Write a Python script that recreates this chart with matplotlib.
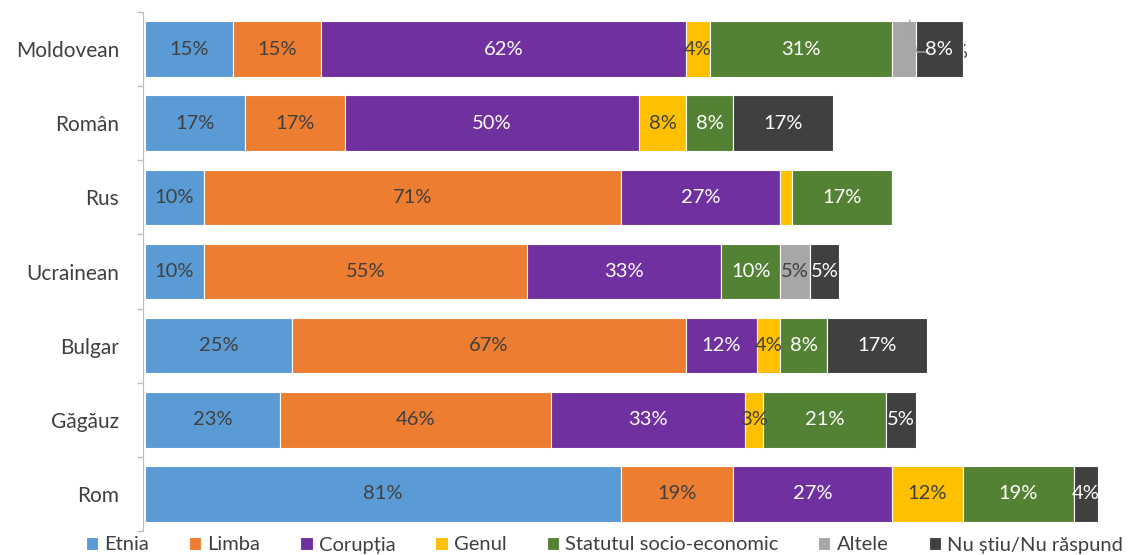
import numpy as np
import matplotlib
matplotlib.use("Agg")
import matplotlib.pyplot as plt

plt.rcParams['font.family'] = ['Lato', 'DejaVu Sans']

groups = ['Moldovean', 'Român', 'Rus', 'Ucrainean', 'Bulgar', 'Găgăuz', 'Rom']
series = ['Etnia', 'Limba', 'Corupția', 'Genul', 'Statutul socio-economic', 'Altele', 'Nu știu/Nu răspund']
etnia = [15, 17, 10, 10, 25, 23, 81]
limba = [15, 17, 71, 55, 67, 46, 19]
coruptia = [62, 50, 27, 33, 12, 33, 27]
genul = [4, 8, 2, 0, 4, 3, 12]
statut = [31, 8, 17, 10, 8, 21, 19]
altele = [4, 0, 0, 5, 0, 0, 0]
nu_stiu = [8, 17, 0, 5, 17, 5, 4]

colors = ['#5B9BD5', '#ED7D31', '#7030A0', '#FFC000', '#548235', '#A9A7A6', '#404040']
label_colors = ['#404040', '#404040', 'white', '#404040', 'white', '#404040', 'white']
dark = '#404040'
fs = 14.5

fig = plt.figure(figsize=(11.45, 5.55), dpi=100)
ax = fig.add_axes([145 / 1145, 1 - 531 / 555, 1 - 145 / 1145, 519 / 555])

data = [etnia, limba, coruptia, genul, statut, altele, nu_stiu]
y = np.arange(len(groups))
left = np.zeros(len(groups))
lefts = []
for vals, name, col, lc in zip(data, series, colors, label_colors):
    vals = np.array(vals, dtype=float)
    ax.barh(y, vals, left=left, height=0.75, color=col, edgecolor='white',
            linewidth=0.8, label=name, zorder=2)
    lefts.append(left.copy())
    for i, v in enumerate(vals):
        if v <= 0:
            continue
        if name == 'Genul' and groups[i] == 'Rus':
            continue
        if name == 'Altele' and groups[i] == 'Moldovean':
            continue
        ax.text(left[i] + v / 2, y[i], f'{int(v)}%', ha='center', va='center',
                color=lc, fontsize=fs, zorder=4)
    left = left + vals

# Moldovean "Altele" label pushed out with a leader line (mostly hidden behind the bar)
i = 0
a0 = lefts[5][i]
ax.text(a0 + 10.6, y[i] + 0.04, f'{altele[i]}%', ha='center', va='center',
        color=dark, fontsize=fs, zorder=1)
ax.plot([a0 + 3.0, a0 + 4.2, a0 + 6.3], [y[i] - 0.39, y[i] + 0.04, y[i] + 0.04],
        color='#A5A5A5', linewidth=1, zorder=3)

ax.set_xlim(0, 170)
ax.set_ylim(len(groups) - 0.5, -0.5)
ax.set_yticks(y)
ax.set_yticklabels(groups)
ax.set_yticks(np.arange(-0.5, len(groups), 1), minor=True)
ax.tick_params(axis='y', which='major', length=0, pad=17, labelsize=15, labelcolor=dark)
ax.tick_params(axis='y', which='minor', length=4.5, color='#BFBFBF', width=1)
ax.set_xticks([])
for s in ['top', 'right', 'bottom']:
    ax.spines[s].set_visible(False)
ax.spines['left'].set_color('#BFBFBF')
ax.spines['left'].set_position(('outward', 1.5))

fig.legend(loc='center left', bbox_to_anchor=(86 / 1145, 1 - 545 / 555), ncol=7,
           frameon=False, fontsize=fs, handlelength=0.6, handleheight=0.6,
           handletextpad=0.3, columnspacing=2.0, labelcolor=dark,
           borderaxespad=0, borderpad=0)

fig.savefig('out.png', dpi=100)
